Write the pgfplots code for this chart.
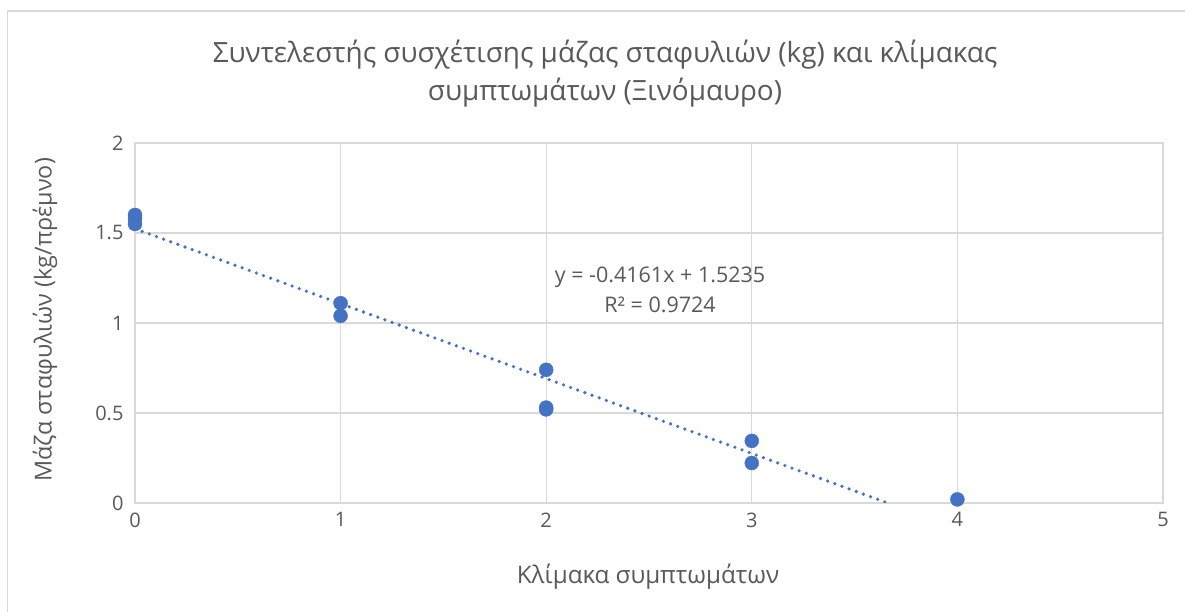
\documentclass[border=0pt]{standalone}
\usepackage{pgfplots}
\pgfplotsset{compat=1.18}
\usepackage{fontspec}
\setmainfont{Open Sans}
\definecolor{txt}{HTML}{595959}
\definecolor{grd}{HTML}{D9D9D9}
\definecolor{blu}{HTML}{4472C4}
\begin{document}
\begin{tikzpicture}[x=1pt,y=1pt]
\useasboundingbox (0,0) rectangle (1185,612);
\draw[grd, line width=1.3pt] (7.5,-10) -- (7.5,601) -- (1200,601);
\begin{axis}[at={(135pt,109pt)}, anchor=south west, scale only axis,
  width=1028pt, height=360pt,
  xmin=0, xmax=5, ymin=0, ymax=2,
  xtick={0,1,2,3,4,5}, ytick={0,0.5,1,1.5,2},
  grid=major, grid style={grd, line width=1.1pt},
  axis line style={grd, line width=1.1pt},
  major tick length=0pt,
  /pgf/number format/assume math mode=true,
  tick label style={font=\fontsize{20}{24}\selectfont, text=txt},
  xticklabel style={yshift=-6pt},
  yticklabel style={xshift=-8pt},
  clip=true]
\addplot[blu, line width=3.6pt, line cap=round, dash pattern=on 0pt off 7.6pt] coordinates {(0,1.5235) (3.6613,0)};
\addplot[only marks, mark=*, mark size=7pt, mark options={fill=blu, draw=blu}] coordinates {
(0,1.60) (0,1.58) (0,1.55)
(1,1.11) (1,1.04)
(2,0.74) (2,0.53) (2,0.52)
(3,0.345) (3,0.222)
(4,0.02)
};
\end{axis}
\node[text=txt, font=\fontsize{27.9}{32}\selectfont] at (605,557) {Συντελεστής συσχέτισης μάζας σταφυλιών (kg) και κλίμακας};
\node[text=txt, font=\fontsize{27.9}{32}\selectfont] at (605,519) {συμπτωμάτων (Ξινόμαυρο)};
\node[text=txt, font=\fontsize{24.2}{28}\selectfont] at (648,35) {Κλίμακα συμπτωμάτων};
\node[text=txt, font=\fontsize{23.4}{28}\selectfont, rotate=90] at (45,292) {Μάζα σταφυλιών (kg/πρέμνο)};
\node[text=txt, font=\fontsize{21.5}{26}\selectfont] at (660,335) {y = -0.4161x + 1.5235};
\node[text=txt, font=\fontsize{21.5}{26}\selectfont] at (660,307) {R² = 0.9724};
\end{tikzpicture}
\end{document}
